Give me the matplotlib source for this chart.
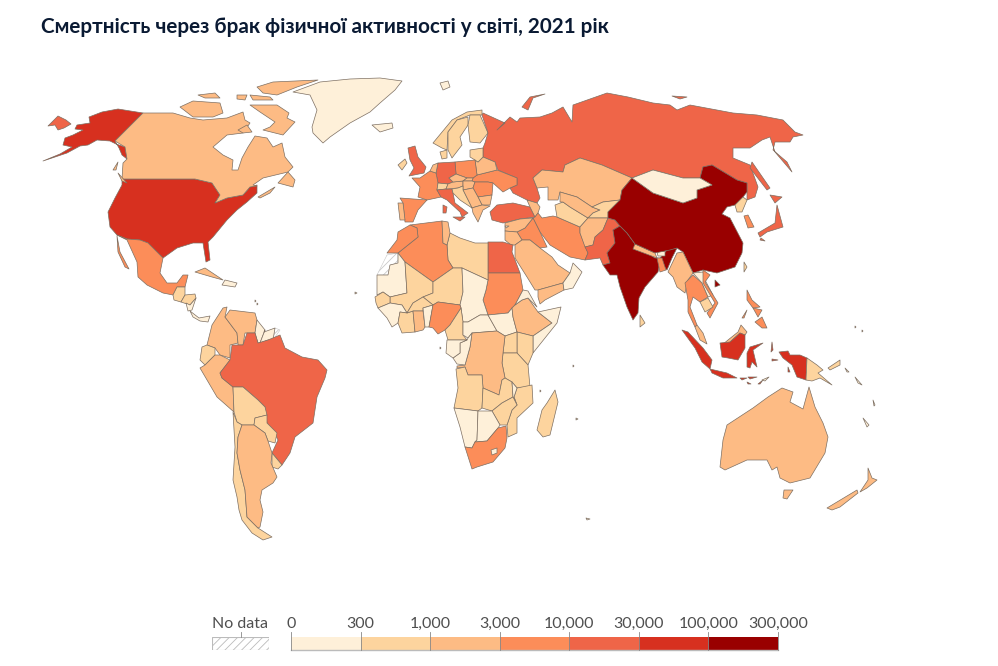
import matplotlib
matplotlib.use("Agg")
import matplotlib.pyplot as plt
from matplotlib.patches import Polygon, Rectangle
from matplotlib.colors import BoundaryNorm, ListedColormap

title = "Смертність через брак фізичної активності у світі, 2021 рік"
bin_edges = [0, 300, 1000, 3000, 10000, 30000, 100000, 300000]
bin_labels = ["0", "300", "1,000", "3,000", "10,000", "30,000", "100,000", "300,000"]
bin_colors = ["#fef0d9", "#fdd49e", "#fdbb84", "#fc8d59", "#ef6548", "#d7301f", "#990000"]
no_data_label = "No data"

# Country outlines in pixel units of the projected map
usa = [[(122,179),(195,179),(212,183),(220,195),(215,203),(227,198),(243,195),(250,187),(257,185),(257,193),(247,202),(237,210),(227,220),(213,237),(208,242),(210,260),(206,262),(203,243),(193,243),(177,248),(163,258),(157,252),(148,243),(140,240),(127,239),(117,235),(110,227),(108,212),(115,198),(122,185)],
       [(143,113),(118,109),(102,112),(89,117),(90,123),(77,125),(75,129),(83,130),(73,135),(65,138),(63,145),(72,147),(60,154),(43,161),(67,153),(80,146),(88,145),(97,140),(110,141),(116,144),(125,147),(127,159),(122,155),(119,148),(115,141)]]
canada = [[(143,113),(173,113),(190,118),(203,120),(227,118),(243,112),(245,120),(250,123),(243,133),(227,135),(213,147),(223,155),(233,160),(232,170),(238,170),(242,158),(248,147),(255,136),(267,138),(273,147),(282,143),(285,157),(293,167),(288,172),(263,178),(253,185),(257,186),(250,187),(243,195),(227,198),(215,203),(220,195),(212,183),(195,179),(122,179),(123,163),(127,159),(125,147),(115,141)],
          [(250,105),(277,105),(289,113),(287,118),(295,122),(283,135),(263,130),(270,127),(275,122),(260,112)],
          [(257,87),(273,82),(318,80),(297,87),(277,95),(263,93)],
          [(180,107),(193,101),(220,103),(223,113),(213,117),(193,117)],
          [(198,95),(215,93),(220,98),(205,98)],
          [(237,95),(247,95),(245,100),(237,99)],
          [(250,95),(270,97),(273,100),(253,100)],
          [(238,130),(247,125),(252,132),(243,133)],
          [(278,183),(288,172),(295,180),(293,187)],
          [(258,197),(275,187),(270,193),(260,198)],
          [(118,173),(127,183),(122,181)],
          [(113,170),(118,162),(116,170)]]
bering_island = [[(48,126),(58,116),(66,120),(71,124),(64,128),(58,130),(55,125)]]
greenland = [[(320,82),(350,79),(380,78),(402,81),(395,90),(380,103),(370,112),(350,123),(330,137),(323,143),(313,133),(312,127),(317,110),(310,95),(293,92)]]
mexico = [[(117,235),(127,239),(140,240),(148,243),(157,252),(163,258),(160,273),(167,283),(177,283),(183,275),(188,275),(185,287),(177,287),(173,295),(163,293),(147,285),(138,277),(137,262),(127,240)],
          [(117,236),(120,252),(129,269),(125,267),(118,252)]]
cuba = [[(195,272),(205,268),(223,280),(212,277)]]
haiti_dr = [[(225,280),(237,283),(235,287),(222,285)]]
guatemala = [[(173,295),(177,287),(185,287),(185,295),(181,302),(174,300)]]
honduras = [[(181,302),(185,295),(195,294),(196,298),(190,305)]]
nicaragua = [[(186,303),(190,305),(196,298),(192,310),(188,311)]]
panama = [[(190,311),(199,318),(210,316),(208,322),(200,321),(193,317)]]
colombia = [[(227,307),(225,317),(237,333),(238,343),(230,345),(230,358),(220,355),(215,348),(207,345),(210,333),(212,325),(223,308)]]
venezuela = [[(225,317),(230,310),(255,313),(257,320),(255,333),(245,333),(243,345),(238,345),(238,343),(237,333)]]
guyana = [[(257,320),(265,330),(260,343),(258,343),(255,333)]]
suriname = [[(264,332),(275,328),(273,340),(268,340),(260,343),(265,330)]]
french_guiana = [[(275,328),(280,330),(273,340)]]
ecuador = [[(202,347),(207,345),(215,348),(215,355),(205,365),(200,360)]]
peru = [[(215,355),(220,355),(230,360),(220,373),(222,378),(233,387),(234,412),(217,397),(200,368),(205,365)]]
brazil = [[(247,333),(255,333),(258,343),(268,340),(280,335),(285,348),(302,357),(318,360),(327,370),(325,378),(317,397),(313,423),(295,437),(290,453),(282,465),(272,453),(278,440),(273,430),(267,423),(265,407),(258,400),(243,387),(233,387),(222,378),(220,373),(230,360),(232,345),(243,345)]]
bolivia = [[(233,387),(243,387),(258,400),(265,407),(267,415),(255,418),(254,425),(242,425),(237,422),(234,412)]]
paraguay = [[(255,418),(267,415),(267,423),(277,433),(275,443),(268,441),(265,433),(254,425)]]
uruguay = [[(272,453),(282,465),(278,469),(272,467)]]
chile = [[(233,412),(237,422),(242,425),(238,437),(237,453),(240,470),(245,490),(247,517),(258,528),(272,537),(263,540),(252,533),(242,520),(239,510),(237,497),(233,480),(235,447)]]
argentina = [[(242,425),(254,425),(265,433),(268,441),(272,453),(271,463),(277,477),(273,483),(262,490),(260,500),(263,512),(260,527),(258,528),(247,517),(245,490),(240,470),(237,453),(238,437)]]

iceland = [[(372,125),(392,123),(393,128),(380,132)]]
svalbard = [[(440,83),(448,81),(450,87),(443,90)]]
ireland = [[(398,165),(405,159),(407,163),(402,170)]]
uk = [[(408,148),(415,146),(418,157),(426,167),(424,173),(409,176),(414,168),(410,160)]]
norway = [[(433,143),(452,120),(467,112),(482,110),(482,115),(470,115),(457,120),(448,132),(447,150),(442,148)]]
sweden = [[(448,132),(457,120),(468,117),(468,125),(460,137),(462,145),(452,158),(448,150)]]
finland = [[(470,115),(480,115),(488,133),(480,143),(470,142),(468,125)]]
denmark = [[(440,152),(447,150),(447,158),(442,159)]]
russia = [[(482,115),(483,113),(505,123),(497,130),(510,117),(517,122),(520,118),(540,117),(552,113),(563,107),(572,122),(573,105),(607,93),(628,97),(653,103),(670,105),(677,110),(690,105),(733,113),(757,115),(783,120),(795,132),(803,135),(793,137),(790,142),(775,142),(773,150),(787,162),(792,172),(775,152),(770,137),(762,140),(750,148),(733,148),(733,158),(750,165),(758,187),(755,197),(747,200),(747,183),(737,180),(712,165),(703,167),(700,178),(683,178),(653,170),(632,178),(602,165),(580,158),(565,165),(563,172),(542,170),(533,178),(537,188),(540,198),(537,203),(527,200),(513,193),(510,188),(517,185),(517,178),(498,170),(495,162),(483,157),(483,148),(485,143),(488,133)],
          [(522,107),(530,97),(545,94),(533,98),(528,110)],
          [(672,96),(687,97),(680,99)],
          [(752,162),(770,188),(767,190),(750,168)]]
ukraine = [[(473,178),(477,175),(497,170),(517,178),(517,185),(510,188),(503,192),(493,183),(488,182),(475,182),(472,181)]]
belarus = [[(478,162),(483,157),(495,162),(497,170),(477,175),(475,160)]]
baltics = [[(470,150),(483,148),(483,157),(478,162),(475,160),(470,157)]]
poland = [[(455,162),(475,160),(477,175),(473,178),(467,178),(456,174)]]
germany = [[(438,163),(455,162),(456,174),(449,178),(453,182),(448,184),(438,183),(436,173)]]
france = [[(412,178),(420,178),(430,171),(436,173),(438,183),(437,190),(441,197),(427,200),(418,197),(420,187)]]
benelux = [[(430,171),(433,165),(438,163),(436,173)]]
switzerland = [[(438,183),(448,184),(446,189),(437,190)]]
spain = [[(400,198),(427,200),(418,210),(413,222),(405,222),(403,203)]]
portugal = [[(398,203),(403,203),(405,220),(400,220)]]
italy = [[(437,190),(446,189),(452,189),(453,193),(455,203),(468,213),(465,215),(462,217),(460,212),(447,200),(441,197)],
         [(453,217),(465,217),(460,221)],
         [(443,205),(447,207),(446,213),(443,213)]]
austria = [[(448,184),(453,182),(463,181),(463,186),(458,188),(446,189)]]
czechia = [[(449,178),(456,174),(467,178),(463,181),(453,182)]]
slovakia = [[(463,181),(467,178),(473,178),(472,181)]]
hungary = [[(463,186),(463,181),(472,181),(475,182),(473,188),(463,190)]]
romania = [[(473,188),(475,182),(488,182),(493,183),(492,195),(478,197)]]
bulgaria = [[(478,197),(492,195),(490,205),(482,205)]]
serbia = [[(463,190),(473,188),(478,197),(482,205),(475,207),(472,208),(467,198)]]
croatia = [[(452,189),(458,188),(463,186),(463,190),(467,198),(472,208),(460,200),(453,193)]]
greece = [[(472,208),(475,207),(482,205),(490,206),(483,210),(478,222),(473,213)]]
turkey = [[(490,212),(497,205),(513,203),(530,207),(535,217),(520,219),(503,223),(492,220)]]
caucasus = [[(527,200),(537,203),(540,207),(538,213),(535,217),(530,207)]]
iran = [[(535,217),(538,213),(542,218),(553,216),(557,217),(580,227),(580,233),(588,253),(585,260),(570,257),(550,245),(540,232),(533,218)]]
iraq = [[(525,228),(533,218),(540,232),(547,247),(540,248),(530,240),(522,240),(517,232)]]
syria = [[(505,223),(520,219),(533,218),(525,228),(517,232),(505,231)]]
jordan = [[(505,231),(517,232),(522,240),(515,245),(511,245),(505,240)]]
saudi = [[(515,245),(522,240),(530,240),(540,248),(552,257),(558,265),(570,273),(563,283),(538,290),(535,290),(527,277),(515,258)]]
yemen = [[(538,290),(563,283),(564,290),(545,300),(540,304),(538,297)]]
oman = [[(570,273),(573,263),(582,272),(573,288),(564,290),(563,283)]]

egypt = [[(488,242),(503,242),(513,245),(512,252),(520,273),(488,273)]]
sudan = [[(488,273),(520,273),(523,290),(515,305),(512,308),(508,313),(488,315),(483,300),(486,290),(488,280)]]
libya = [[(450,233),(460,238),(475,243),(488,243),(488,280),(462,268),(453,268),(448,260),(447,245)]]
algeria = [[(410,225),(442,221),(443,243),(447,245),(448,260),(453,268),(433,282),(405,262),(398,253),(418,237),(417,228)]]
tunisia = [[(442,221),(448,222),(450,233),(447,245),(443,243)]]
morocco = [[(410,225),(417,228),(418,237),(398,253),(387,253),(397,240),(398,232)]]
western_sahara = [[(377,275),(387,255),(398,253),(398,263),(390,265),(388,275)]]
mauritania = [[(377,275),(388,275),(390,265),(398,263),(398,253),(405,262),(407,293),(390,297),(383,292),(377,295)]]
mali = [[(405,262),(433,282),(433,293),(423,297),(413,303),(407,313),(402,305),(390,303),(390,297),(407,293)]]
niger = [[(433,282),(453,268),(462,268),(463,292),(460,305),(438,302),(433,305),(423,297),(433,293)]]
chad = [[(462,268),(488,280),(486,290),(483,300),(488,315),(480,315),(468,322),(463,322),(461,308),(460,305),(463,292)]]
senegal = [[(375,297),(383,292),(390,297),(390,303),(378,308),(376,303)]]
guinea = [[(378,308),(390,303),(402,305),(407,313),(400,312),(398,323),(392,327),(387,318)]]
ivory_coast = [[(400,312),(407,313),(413,311),(415,332),(402,333),(398,323)]]
burkina = [[(407,313),(413,303),(423,297),(433,305),(423,308),(423,311),(413,311)]]
ghana = [[(413,311),(423,311),(425,327),(423,330),(415,332)]]
benin = [[(423,308),(433,305),(429,327),(425,327)]]
nigeria = [[(433,305),(438,302),(460,305),(461,308),(450,325),(445,330),(438,334),(433,328),(429,327)]]
cameroon = [[(461,308),(463,322),(463,335),(467,340),(448,340),(445,330),(450,325)]]
car = [[(463,322),(468,322),(480,315),(488,315),(497,331),(472,333),(468,338),(463,335)]]
south_sudan = [[(488,315),(508,313),(512,308),(513,317),(517,332),(505,336),(497,331)]]
ethiopia = [[(515,305),(522,300),(528,298),(538,312),(552,323),(533,336),(517,332),(513,317),(512,308)]]
eritrea = [[(523,290),(528,291),(537,307),(528,298),(522,300),(515,305)]]
somalia = [[(538,312),(561,307),(557,323),(533,353),(533,336),(552,323)]]
kenya = [[(517,332),(533,336),(533,353),(528,365),(517,353)]]
uganda = [[(505,336),(517,332),(517,353),(503,353)]]
tanzania = [[(503,353),(517,353),(528,365),(530,387),(517,388),(512,382),(505,378),(502,363)]]
drc = [[(472,333),(497,331),(505,336),(503,353),(502,363),(505,378),(502,380),(499,395),(483,388),(482,375),(468,375),(465,367),(457,368),(457,366),(465,365),(470,347)]]
congo = [[(467,340),(468,338),(472,333),(470,347),(465,365),(457,364),(453,358),(460,353),(460,343)]]
gabon = [[(447,340),(467,340),(460,343),(460,353),(453,358),(446,353)]]
angola = [[(456,369),(465,367),(468,375),(482,375),(483,388),(482,408),(478,411),(454,408),(458,388)]]
zambia = [[(483,388),(499,395),(502,380),(505,378),(512,382),(513,397),(502,403),(492,411),(482,408)]]
mozambique = [[(517,388),(532,385),(533,403),(517,418),(517,433),(508,437),(507,425),(512,410),(517,405),(514,397)]]
malawi = [[(512,382),(517,388),(514,397),(517,405),(513,397)]]
zimbabwe = [[(492,411),(502,403),(513,397),(517,405),(512,410),(507,425),(500,425)]]
namibia = [[(454,408),(478,411),(477,440),(475,442),(472,448),(465,447),(460,427)]]
botswana = [[(478,411),(492,411),(500,425),(498,428),(487,441),(475,442),(477,440)]]
south_africa = [[(475,442),(487,441),(498,428),(506,426),(507,438),(505,448),(493,462),(477,467),(472,469),(465,447),(472,448)]]
lesotho = [[(491,450),(497,448),(497,453),(492,455)]]
madagascar = [[(555,390),(558,402),(550,435),(543,437),(537,430),(542,410),(547,403)]]

kazakhstan = [[(533,178),(542,170),(563,172),(565,165),(580,158),(602,165),(632,178),(622,190),(620,200),(603,202),(592,207),(577,197),(560,192),(558,200),(548,200),(548,187),(537,188)]]
turkmenistan = [[(555,205),(563,202),(570,207),(588,218),(580,227),(557,217)]]
uzbekistan = [[(560,192),(577,197),(592,207),(600,210),(593,213),(588,218),(570,207),(563,202),(560,202)]]
kyrgyzstan = [[(592,207),(603,202),(620,200),(608,212),(608,218),(595,218),(588,218),(593,213),(600,210)]]
afghanistan = [[(580,227),(588,218),(595,218),(608,218),(603,230),(595,237),(593,245),(585,247),(580,233)]]
pakistan = [[(608,218),(615,220),(620,226),(613,230),(615,243),(607,253),(610,263),(603,265),(600,258),(585,260),(588,253),(585,247),(593,245),(595,237),(603,230)]]
india = [[(613,230),(620,226),(627,233),(635,244),(655,258),(660,258),(667,250),(677,248),(672,258),(667,270),(660,262),(658,272),(645,287),(639,298),(638,313),(633,320),(627,307),(620,287),(617,275),(610,275),(603,265),(610,263),(607,253),(615,243)]]
bangladesh = [[(657,258),(662,258),(666,270),(660,272)]]
bhutan = [[(657,252),(665,251),(665,256),(658,256)]]
nepal = [[(635,244),(655,253),(657,258),(633,249)]]
china = [[(622,190),(632,178),(653,193),(683,203),(697,198),(697,190),(712,185),(700,178),(703,167),(712,165),(737,180),(747,183),(747,192),(743,197),(735,205),(727,207),(722,214),(730,218),(743,243),(742,253),(735,267),(717,273),(703,270),(693,273),(683,252),(677,248),(670,250),(655,253),(635,244),(627,233),(620,226),(615,220),(608,218),(608,212),(620,200)],
         [(715,280),(720,285),(715,287)]]
mongolia = [[(632,178),(653,170),(683,178),(700,178),(712,185),(697,190),(697,198),(683,203),(653,193)]]
north_korea = [[(735,205),(743,197),(747,200),(742,212),(737,212)]]
south_korea = [[(744,216),(748,215),(754,227),(748,228)]]
japan = [[(777,205),(783,227),(767,232),(760,237),(758,233),(775,223)],
         [(770,195),(782,197),(775,203)],
         [(761,238),(765,241),(760,240)]]
taiwan = [[(744,262),(747,267),(744,272)]]
myanmar = [[(668,272),(677,253),(683,252),(693,273),(688,280),(685,293),(677,287),(673,277)]]
thailand = [[(685,283),(693,275),(702,283),(708,297),(700,302),(693,297),(690,307),(697,325),(695,327),(688,312),(688,300)]]
laos = [[(693,273),(703,272),(705,280),(713,295),(708,297),(702,283)]]
vietnam = [[(703,270),(710,275),(705,282),(718,303),(710,318),(707,313),(715,303),(703,283)]]
cambodia = [[(700,302),(708,298),(713,307),(705,312)]]
malaysia = [[(695,327),(697,325),(703,333),(707,344),(700,340)],
            [(722,345),(728,340),(738,332),(741,325),(747,332),(745,335),(740,333),(730,342)]]
sri_lanka = [[(640,315),(645,323),(640,327)]]
philippines = [[(747,290),(752,300),(760,307),(753,308),(747,300)],
               [(755,322),(762,317),(767,328),(762,328)],
               [(753,308),(762,310),(758,317)],
               [(742,318),(747,310),(744,318)]]
indonesia = [[(682,330),(688,332),(703,348),(712,360),(710,369),(702,362),(695,348)],
             [(710,369),(727,373),(737,378),(723,378),(712,373)],
             [(720,343),(730,342),(740,333),(745,335),(745,348),(738,360),(728,358),(722,357)],
             [(750,347),(763,343),(753,350),(757,367),(752,362),(750,368),(747,367),(747,353)],
             [(779,352),(788,351),(790,355),(800,355),(807,358),(806,380),(797,377),(792,365),(783,358)],
             [(772,342),(773,350),(771,352)],
             [(772,359),(778,360),(772,361)],
             [(740,378),(747,378),(742,380)],
             [(748,377),(757,377),(750,379)],
             [(758,384),(763,380),(760,384)],
             [(747,382),(751,384),(748,384)],
             [(788,367),(790,372),(788,372)]]
png = [[(807,358),(817,365),(823,370),(818,373),(832,385),(820,378),(812,381),(806,380)],
       [(828,368),(840,360),(840,365),(830,370)]]
timor = [[(762,380),(769,377),(765,381)]]
solomon = [[(845,368),(849,372),(847,372)], [(855,377),(862,385),(858,383)]]
australia = [[(720,467),(723,440),(727,425),(753,408),(768,397),(782,388),(793,392),(790,402),(803,409),(809,387),(815,407),(823,423),(828,437),(825,453),(810,478),(790,483),(780,478),(777,467),(772,470),(767,460),(747,460),(725,470)],
             [(784,490),(793,490),(787,499),(783,498)]]
new_zealand = [[(827,508),(857,490),(858,493),(840,507),(832,510)],
               [(868,468),(872,478),(877,480),(867,488),(860,492),(868,480)]]
new_caledonia = [[(863,418),(869,425),(867,427)]]
vanuatu = [[(873,400),(875,405),(874,406)]]
tiny_islands = [[(255,300),(256,301),(255,302)], [(257,303),(258,304),(257,305)], [(355,292),(357,293),(355,294)],
                [(440,347),(441,348),(440,349)], [(540,390),(541,391),(540,392)], [(573,365),(574,366),(573,367)],
                [(576,418),(578,419),(576,420)], [(586,518),(590,519),(587,520)], [(505,226),(509,226),(506,228)],
                [(862,330),(863,331),(862,332)], [(855,326),(856,327),(855,328)]]

# Estimated deaths per country, each read only as far as its colour band allows
country_deaths = {
    "usa": 70000, "canada": 2500, "bering_island": 20000, "greenland": 50, "mexico": 9000, "cuba": 1500, "haiti_dr": 250,
    "guatemala": 800, "honduras": 600, "nicaragua": 200, "panama": 150, "colombia": 2500, "venezuela": 2000,
    "guyana": 100, "suriname": 60, "ecuador": 700, "peru": 2000, "brazil": 28000, "bolivia": 800, "paraguay": 600,
    "uruguay": 500, "chile": 800, "argentina": 2800, "iceland": 30, "svalbard": 10, "ireland": 900, "uk": 15000,
    "norway": 800, "sweden": 900, "finland": 600, "denmark": 700, "russia": 25000, "ukraine": 9000, "belarus": 2000,
    "baltics": 600, "poland": 6000, "germany": 25000, "france": 8000, "benelux": 2800, "switzerland": 900,
    "spain": 7000, "portugal": 2000, "italy": 25000, "austria": 1500, "czechia": 2000, "slovakia": 1500, "hungary": 2500,
    "romania": 7000, "bulgaria": 2500, "serbia": 2000, "croatia": 900, "greece": 2500, "turkey": 20000, "caucasus": 2000,
    "iran": 9000, "iraq": 5000, "syria": 2500, "jordan": 1000, "saudi": 2800, "yemen": 2000, "oman": 250, "egypt": 22000,
    "sudan": 5000, "libya": 800, "algeria": 5000, "tunisia": 1500, "morocco": 4000, "mauritania": 100, "mali": 600,
    "niger": 500, "chad": 200, "senegal": 500, "guinea": 250, "ivory_coast": 900, "burkina": 500, "ghana": 1500,
    "benin": 200, "nigeria": 8000, "cameroon": 800, "car": 80, "south_sudan": 100, "ethiopia": 2500, "eritrea": 50,
    "somalia": 150, "kenya": 900, "uganda": 700, "tanzania": 900, "drc": 2000, "congo": 120, "gabon": 100,
    "angola": 700, "zambia": 500, "mozambique": 600, "malawi": 200, "zimbabwe": 600, "namibia": 100, "botswana": 120,
    "south_africa": 8000, "lesotho": 50, "madagascar": 800, "kazakhstan": 2500, "turkmenistan": 600, "uzbekistan": 2000,
    "kyrgyzstan": 800, "afghanistan": 2000, "pakistan": 22000, "india": 150000, "bangladesh": 9000, "bhutan": 40,
    "nepal": 2500, "china": 280000, "mongolia": 200, "north_korea": 900, "south_korea": 4000, "japan": 20000,
    "taiwan": 800, "myanmar": 2500, "thailand": 8000, "laos": 250, "vietnam": 6000, "cambodia": 800, "malaysia": 2000,
    "sri_lanka": 800, "philippines": 7000, "indonesia": 60000, "png": 700, "timor": 80, "solomon": 20,
    "australia": 2500, "new_zealand": 1000, "new_caledonia": 20, "vanuatu": 10, "tiny_islands": 10,
}
no_data_countries = ["western_sahara", "french_guiana"]

plt.rcParams["font.family"] = ["Lato", "Noto Sans", "DejaVu Sans"]
plt.rcParams["hatch.linewidth"] = 0.6

fig = plt.figure(figsize=(9.98, 6.66), dpi=100, facecolor="white")
ax = fig.add_axes([0, 0, 1, 1])
ax.set_xlim(0, 998)
ax.set_ylim(666, 0)
ax.axis("off")

cmap = ListedColormap(bin_colors)
norm = BoundaryNorm(bin_edges, cmap.N)
outline = "#7d6f62"

for name in no_data_countries:
    for ring in globals()[name]:
        ax.add_patch(Polygon(ring, closed=True, facecolor="white", edgecolor="#c8c8c8", hatch="////", lw=0.4))
for name, value in country_deaths.items():
    for ring in globals()[name]:
        ax.add_patch(Polygon(ring, closed=True, facecolor=cmap(norm(value)), edgecolor=outline, lw=0.5, joinstyle="round"))

ax.text(41, 27, title, fontsize=14.9, fontweight="bold", color="#0a1a33", va="center", ha="left")

# Legend scale
W, H = 998.0, 666.0
x0, x1, y0, y1 = 291, 778, 637, 650
leg = fig.add_axes([x0 / W, 1 - y1 / H, (x1 - x0) / W, (y1 - y0) / H])
leg.set_xlim(0, len(bin_colors))
leg.set_ylim(0, 1)
leg.axis("off")
for i, c in enumerate(bin_colors):
    leg.add_patch(Rectangle((i, 0), 1, 1, facecolor=c, edgecolor="none"))
leg.plot([0, len(bin_colors)], [0, 0], color="#bbbbbb", lw=1.0, clip_on=False)
for i, lab in enumerate(bin_labels):
    leg.plot([i, i], [0, 1.35], color="#888888", lw=0.6, clip_on=False)
    leg.text(i, 1.5, lab, ha="center", va="bottom", fontsize=11.5, color="#4f4f4f", clip_on=False)

nd = fig.add_axes([212 / W, 1 - y1 / H, 57 / W, (y1 - y0) / H])
nd.set_xlim(0, 1)
nd.set_ylim(0, 1)
nd.axis("off")
nd.add_patch(Rectangle((0, 0), 1, 1, facecolor="white", edgecolor="#bbbbbb", hatch="////", lw=0.8))
nd.plot([0.5, 0.5], [1, 1.35], color="#888888", lw=0.6, clip_on=False)
nd.text(0.5, 1.5, no_data_label, ha="center", va="bottom", fontsize=11.5, color="#4f4f4f", clip_on=False)

fig.savefig("out.png", dpi=100, facecolor="white")
